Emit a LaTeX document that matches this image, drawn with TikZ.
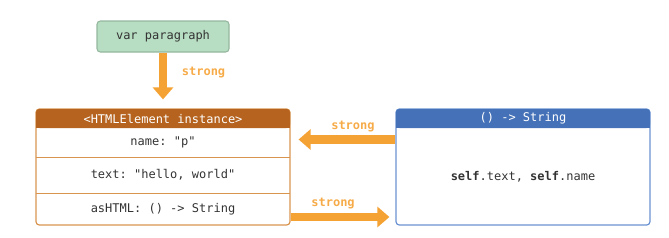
\documentclass[tikz,border=0pt]{standalone}
\usepackage{fontspec}
\setmonofont{DejaVu Sans Mono}
\usepackage{tikz}
\usetikzlibrary{arrows.meta,positioning,calc}
\definecolor{varfill}{HTML}{B7DEC2}
\definecolor{varline}{HTML}{95B79E}
\definecolor{refcol}{HTML}{F5A234}
\definecolor{elemhd}{HTML}{B5631F}
\definecolor{elemline}{HTML}{D8954F}
\definecolor{fnhd}{HTML}{4471B7}
\definecolor{fnline}{HTML}{6A92D2}
\definecolor{txtcol}{HTML}{333333}

\begin{document}
\begin{tikzpicture}[x=0.75pt, y=-0.75pt,
  every node/.style={font=\fontsize{9}{11}\selectfont\ttfamily, text=txtcol},
  box/.style={draw, rounded corners=2.5pt, line width=0.9pt, minimum width=190.5pt, minimum height=87pt, inner sep=0pt},
  hd/.style={rounded corners=2.5pt, minimum width=190.5pt, minimum height=14.25pt, inner sep=0pt, text=white},
  row/.style={minimum width=190.5pt, inner sep=0pt},
  rowline/.style={draw=elemline, line width=1.1pt},
  strongref/.style={refcol, line width=6.3pt, -{Triangle[width=15pt, length=9pt]}},
  lbl/.style={font=\fontsize{9}{11}\selectfont\ttfamily\bfseries, text=refcol!90!white, inner sep=1pt}
]
  \useasboundingbox (0,0) rectangle (669,237);

  % variable
  \node[draw=varline, fill=varfill, rounded corners=2.5pt, line width=0.8pt,
        minimum width=99pt, minimum height=23.25pt] (var) at (163,36.5) {var paragraph};

  % HTMLElement instance
  \node[box, draw=elemline] (elem) at (163,167) {};
  \node[hd, fill=elemhd] (elemtop) at (163,118.5) {};
  \fill[elemhd] (elemtop.west) rectangle (elemtop.south east);
  \node[text=white] at (elemtop) {<HTMLElement instance>};
  \node[row, minimum height=21.75pt] (nm) at (163,142.5) {name: "p"};
  \node[row, minimum height=27pt] (txt) at (163,175) {text: "hello, world"};
  \node[row, minimum height=24pt] (ashtml) at (163,209) {asHTML: () -> String};
  \path[rowline] (nm.south west) -- (nm.south east);
  \path[rowline] (txt.south west) -- (txt.south east);

  % closure
  \node[box, draw=fnline] (fn) at (523,167) {};
  \node[hd, fill=fnhd] (fntop) at (523,118.5) {};
  \fill[fnhd] (fntop.west) rectangle (fntop.south east);
  \node[text=white] at (fntop) {() -> String};
  \node (body) at (523,177) {\textbf{self}.text, \textbf{self}.name};

  % references
  \draw[strongref, shorten >=6.75pt] (var.south) -- (elem.north)
    node[lbl, pos=0.35, right=10pt] {strong};
  \draw[strongref, shorten >=6pt] ($(fn.west)+(0,-27.5)$) -- ($(elem.east)+(0,-27.5)$)
    node[lbl, pos=0.405, above=1.5pt] {strong};
  \draw[strongref, shorten >=4.5pt] ($(elem.east)+(0,50)$) -- ($(fn.west)+(0,50)$)
    node[lbl, pos=0.405, above=1.5pt] {strong};
\end{tikzpicture}
\end{document}
